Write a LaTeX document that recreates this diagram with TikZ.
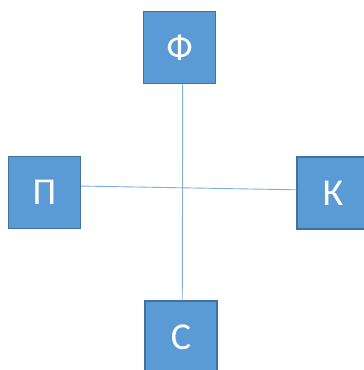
\documentclass[tikz,border=0pt]{standalone}
\usepackage{fontspec}
\setmainfont{Carlito}
\definecolor{boxfill}{HTML}{5B9BD5}
\definecolor{boxline}{HTML}{41719C}
\definecolor{axisline}{HTML}{7FAEDD}
\tikzset{%
  letterbox/.style = {shape=rectangle, draw=boxline, line width=1.2pt,%
                      fill=boxfill, text=white, inner sep=0pt,%
                      minimum width=72pt, minimum height=72pt,%
                      font=\fontsize{38}{38}\selectfont},%
  axis/.style      = {draw=axisline, line width=0.9pt}%
}
\begin{document}
\begin{tikzpicture}[x=1pt,y=-1pt]
  \useasboundingbox (0,0) rectangle (364,370);
  \node [letterbox] (F) at (179.5,47.5) {Ф};
  \node [letterbox] (P) at (44.5,192.5) {П};
  \node [letterbox] (K) at (333,193) {К};
  \node [letterbox] (S) at (181,337) {С};
  % cross lines
  \draw [axis] (F.-85) -- (S.88);
  \draw [axis] (P.10) -- (K.175);
\end{tikzpicture}
\end{document}
